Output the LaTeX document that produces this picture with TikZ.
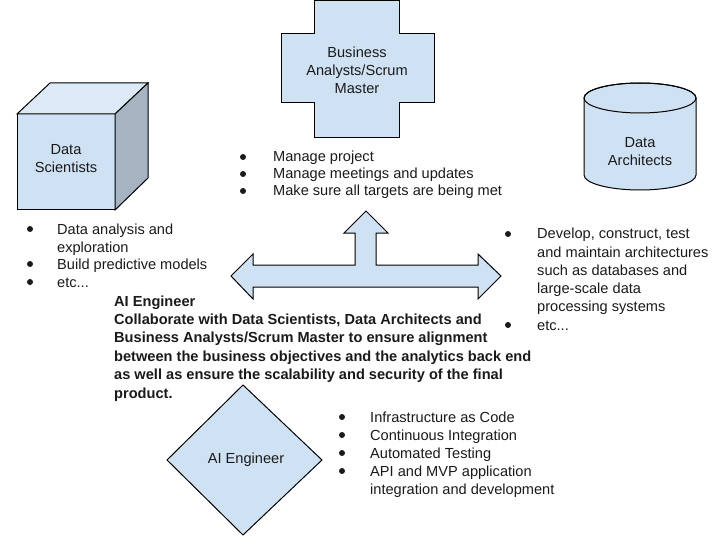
\documentclass[tikz,border=0pt]{standalone}
\usepackage{fontspec}
\setmainfont{Liberation Sans}
\definecolor{shapefill}{HTML}{CFE2F3}
\definecolor{topfill}{HTML}{DCEAF7}
\definecolor{sidefill}{HTML}{A6B4C1}
\definecolor{ink}{HTML}{1A1A1A}
\tikzset{
  shapeline/.style={draw=black, line width=1pt, line join=miter},
  txt/.style={anchor=base west, inner sep=0pt, text=ink},
  bold/.style={txt, font=\fontsize{14.6}{18}\selectfont\bfseries},
  label/.style={align=center, inner sep=0pt, text=ink},
  dot/.style={circle, fill=ink, inner sep=0pt, minimum size=6pt}
}
\begin{document}
\begin{tikzpicture}[x=1pt,y=-1pt,font=\fontsize{14.6}{18}\selectfont]
\useasboundingbox (0,0) rectangle (720,540);

% ---------- cube: Data Scientists
\filldraw[shapeline, fill=shapefill] (17,114) rectangle (115,210);
\filldraw[shapeline, fill=topfill] (17,114) -- (50,83) -- (148,83) -- (115,114) -- cycle;
\filldraw[shapeline, fill=sidefill] (115,114) -- (148,83) -- (148,178) -- (115,210) -- cycle;
\node[label] (ds) at (66,159) {Data\\Scientists};

% ---------- cross: Business Analysts
\filldraw[shapeline, fill=shapefill] (314,1) -- (399,1) -- (399,34) -- (434,34) -- (434,103)
  -- (399,103) -- (399,138) -- (314,138) -- (314,103) -- (281,103) -- (281,34) -- (314,34) -- cycle;
\node[label] (ba) at (357,70) {Business\\Analysts/Scrum\\Master};

% ---------- cylinder: Data Architects
\filldraw[shapeline, fill=shapefill] (584,98) -- (584,175)
  arc[start angle=180, end angle=360, x radius=56pt, y radius=15pt] -- (696,98)
  arc[start angle=0, end angle=180, x radius=56pt, y radius=15pt] -- cycle;
\draw[shapeline] (640,98) ellipse[x radius=56pt, y radius=15pt];
\node[label] (da) at (640,152) {Data\\Architects};

% ---------- three-way arrow
\filldraw[shapeline, fill=shapefill] (231,276) -- (253,254) -- (253,265) -- (355,265) -- (355,233)
  -- (344,233) -- (366,211) -- (388,233) -- (376,233) -- (376,265) -- (478,265) -- (478,254)
  -- (501,276) -- (478,299) -- (478,287) -- (253,287) -- (253,299) -- cycle;

% ---------- diamond: AI Engineer
\filldraw[shapeline, fill=shapefill] (243,385) -- (322,460) -- (243,535) -- (167,460) -- cycle;
\node[label] (ai) at (246,460) {AI Engineer};

% ---------- Business Analysts list
\node[dot] (bb1) at (243,157) {};
\node[dot] (bb2) at (243,174) {};
\node[dot] (bb3) at (243,191) {};
\node[txt] (bt1) at (273,162) {Manage project};
\node[txt] (bt2) at (273,179) {Manage meetings and updates};
\node[txt] (bt3) at (273,196) {Make sure all targets are being met};

% ---------- Data Scientists list
\node[dot] (sb1) at (30,229) {};
\node[dot] (sb2) at (30,264) {};
\node[dot] (sb3) at (30,282) {};
\node[txt] (st1) at (57,234) {Data analysis and};
\node[txt] (st2) at (57,252) {exploration};
\node[txt] (st3) at (57,269.5) {Build predictive models};
\node[txt] (st4) at (57,287) {etc...};

% ---------- Data Architects list
\node[dot] (ab1) at (508,234) {};
\node[dot] (ab2) at (508,325) {};
\node[txt] (at1) at (537,239) {Develop, construct, test};
\node[txt] (at2) at (537,257.2) {and maintain architectures};
\node[txt] (at3) at (537,275.4) {such as databases and};
\node[txt] (at4) at (537,293.6) {large-scale data};
\node[txt] (at5) at (537,311.8) {processing systems};
\node[txt] (at6) at (537,330) {etc...};

% ---------- AI Engineer bold block
\node[bold] (ae1) at (114,306) {AI Engineer};
\node[bold] (ae2) at (114,324.4) {Collaborate with Data Scientists, Data Architects and};
\node[bold] (ae3) at (114,342.8) {Business Analysts/Scrum Master to ensure alignment};
\node[bold] (ae4) at (114,361.2) {between the business objectives and the analytics back end};
\node[bold] (ae5) at (114,379.6) {as well as ensure the scalability and security of the final};
\node[bold] (ae6) at (114,398) {product.};

% ---------- AI Engineer list
\node[dot] (eb1) at (342,417) {};
\node[dot] (eb2) at (342,435) {};
\node[dot] (eb3) at (342,453) {};
\node[dot] (eb4) at (342,471) {};
\node[txt] (et1) at (370,422) {Infrastructure as Code};
\node[txt] (et2) at (370,440) {Continuous Integration};
\node[txt] (et3) at (370,458) {Automated Testing};
\node[txt] (et4) at (370,476) {API and MVP application};
\node[txt] (et5) at (370,494) {integration and development};
\end{tikzpicture}
\end{document}
